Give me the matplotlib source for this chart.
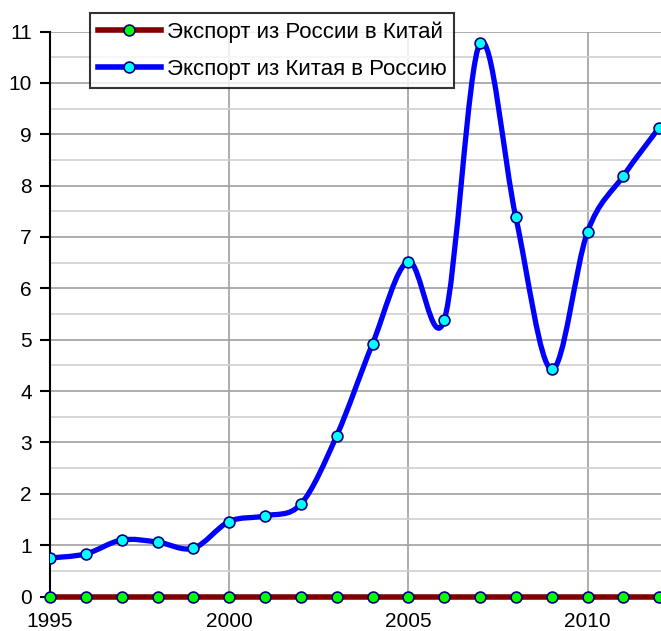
import numpy as np
import matplotlib.pyplot as plt
from matplotlib.path import Path
from matplotlib.patches import PathPatch
from matplotlib.lines import Line2D

plt.rcParams['font.family'] = ['Liberation Sans', 'DejaVu Sans']

years = list(range(1995, 2013))
# export from China to Russia
china_to_russia = [0.75, 0.83, 1.10, 1.06, 0.94, 1.46, 1.57, 1.80, 3.13, 4.92,
                   6.52, 5.38, 10.77, 7.38, 4.42, 7.10, 8.19, 9.13]
# export from Russia to China, drawn on the zero line
russia_to_china = [0] * len(years)

label_ru = "Экспорт из России в Китай"
label_cn = "Экспорт из Китая в Россию"
x_ticks = [1995, 2000, 2005, 2010]


def smooth_path(xs, ys):
    # Excel-like smoothed line: cubic bezier through every point
    pts = np.column_stack([xs, ys]).astype(float)
    verts = [pts[0]]
    codes = [Path.MOVETO]
    n = len(pts)
    for i in range(n - 1):
        p0 = pts[max(i - 1, 0)]
        p1 = pts[i]
        p2 = pts[i + 1]
        p3 = pts[min(i + 2, n - 1)]
        c1 = p1 + (p2 - p0) / 6.0
        c2 = p2 - (p3 - p1) / 6.0
        verts += [c1, c2, p2]
        codes += [Path.CURVE4] * 3
    return Path(verts, codes)


fig = plt.figure(figsize=(6.61, 6.31), dpi=100)
ax = fig.add_axes([50 / 661, 1 - 596.5 / 631, 1 - 50 / 661, (596.5 - 31.5) / 631])

ax.set_xlim(1995, 2012.05)
ax.set_ylim(0, 11)

ax.set_xticks(x_ticks)
ax.set_xticks(range(1995, 2013), minor=True)
ax.set_yticks(range(0, 12))
ax.set_yticks(np.arange(0.5, 11, 1.0), minor=True)

ax.grid(True, which='major', axis='both', color='#a0a0a0', linewidth=1.2)
ax.grid(True, which='minor', axis='y', color='#cfcfcf', linewidth=1.2)
ax.set_axisbelow(True)

for s in ['top', 'right', 'bottom']:
    ax.spines[s].set_visible(False)
ax.spines['left'].set_color('black')
ax.spines['left'].set_linewidth(1.5)

ax.tick_params(axis='y', which='major', length=7, width=1.5, direction='out',
               labelsize=15, pad=6)
ax.tick_params(axis='y', which='minor', length=0)
ax.tick_params(axis='x', which='both', length=0, labelsize=15, pad=11)

# smoothed line for China -> Russia
patch = PathPatch(smooth_path(years, china_to_russia), facecolor='none',
                  edgecolor='#0000ff', linewidth=3.8, capstyle='round',
                  joinstyle='round', zorder=3)
ax.add_patch(patch)
ax.plot(years, china_to_russia, linestyle='none', marker='o', markersize=7.8,
        markerfacecolor='#00ffff', markeredgecolor='#000080',
        markeredgewidth=1.2, zorder=4)

ax.plot(years, russia_to_china, color='#800000', linewidth=4, marker='o',
        markersize=7.8, markerfacecolor='#00ff00', markeredgecolor='#000080',
        markeredgewidth=1.2, zorder=5, clip_on=False)

handles = [
    Line2D([], [], color='#800000', linewidth=4, marker='o', markersize=7.8,
           markerfacecolor='#00ff00', markeredgecolor='#000080',
           markeredgewidth=1.2),
    Line2D([], [], color='#0000ff', linewidth=4, marker='o', markersize=7.8,
           markerfacecolor='#00ffff', markeredgecolor='#000080',
           markeredgewidth=1.2),
]
leg = ax.legend(handles, [label_ru, label_cn], loc='upper left',
                bbox_to_anchor=(90 / 661, 1 - 13.5 / 631), bbox_transform=fig.transFigure,
                fontsize=16, frameon=True, fancybox=False, handlelength=2.85,
                handletextpad=0.25, borderpad=0.35, labelspacing=0.72,
                borderaxespad=0)
leg.get_frame().set_edgecolor('black')
leg.get_frame().set_linewidth(1.5)
leg.set_zorder(10)

fig.savefig('out.png', dpi=100)
